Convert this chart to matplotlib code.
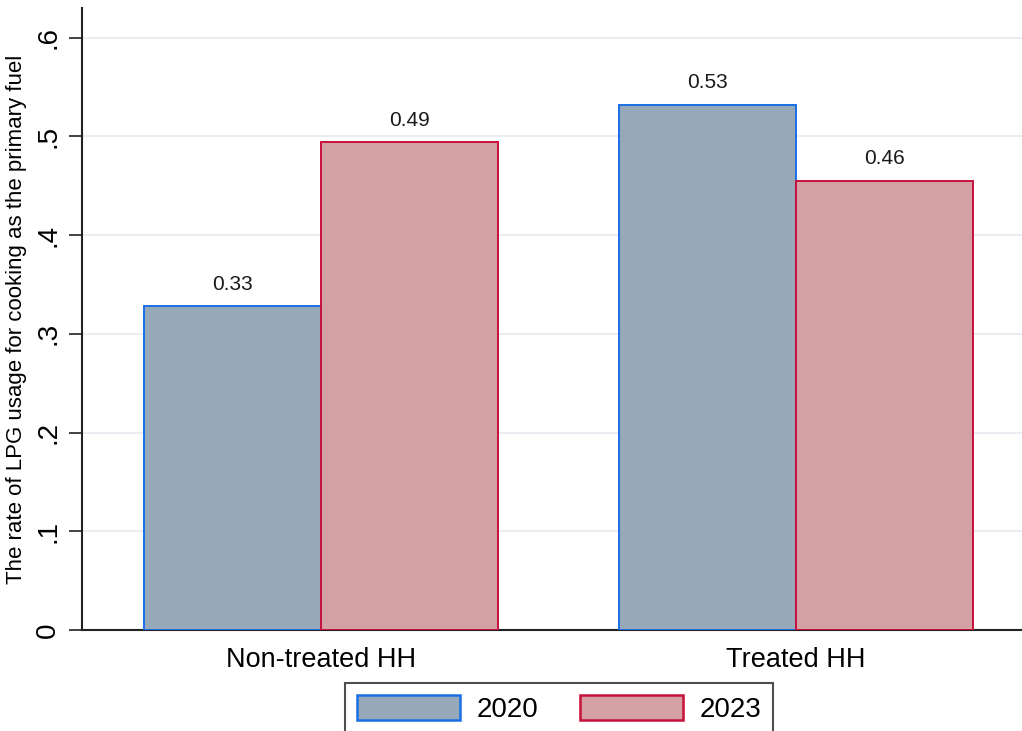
import numpy as np
import matplotlib.pyplot as plt
from matplotlib.patches import Patch

plt.rcParams['font.family'] = ['Liberation Sans', 'DejaVu Sans']

# data
groups = ['Non-treated HH', 'Treated HH']
years = ['2020', '2023']
rate_2020 = [0.328, 0.532]
rate_2023 = [0.494, 0.455]
yticks = [0, 0.1, 0.2, 0.3, 0.4, 0.5, 0.6]
ytick_labels = ['0', '.1', '.2', '.3', '.4', '.5', '.6']

fill = ['#97a8b8', '#d3a0a3']
edge = ['#1a6fe6', '#c8103c']

fig = plt.figure(figsize=(10.22, 7.31), dpi=100)
ax = fig.add_axes([0.0802, 0.138, 0.9198, 0.851])

x = np.arange(len(groups))
w = 0.373
b1 = ax.bar(x - w/2, rate_2020, w, color=fill[0], edgecolor=edge[0], linewidth=1.4, zorder=3)
b2 = ax.bar(x + w/2, rate_2023, w, color=fill[1], edgecolor=edge[1], linewidth=1.4, zorder=3)
for bars in (b1, b2):
    ax.bar_label(bars, fmt='%.2f', padding=9, fontsize=15, color='#1a1a1a')

ax.set_xlim(-0.503, 1.476)
ax.set_ylim(0, 0.63)
ax.set_yticks(yticks)
ax.set_yticklabels(ytick_labels, rotation=90, va='center', fontsize=20)
ax.set_xticks(x)
ax.set_xticklabels(groups, fontsize=19.5)
ax.tick_params(axis='x', length=0, pad=12)
ax.tick_params(axis='y', length=9.5, width=1.2, pad=5.5, color='#222222')
ax.grid(axis='y', color='#e6ebf0', linewidth=1.2, zorder=0)
ax.set_axisbelow(True)
for s in ('top', 'right'):
    ax.spines[s].set_visible(False)
for s in ('left', 'bottom'):
    ax.spines[s].set_linewidth(1.5)
    ax.spines[s].set_color('#222222')
ax.set_ylabel('The rate of LPG usage for cooking as the primary fuel', fontsize=16, labelpad=6)

handles = [Patch(facecolor=fill[i], edgecolor=edge[i], linewidth=1.8, label=years[i]) for i in range(2)]
leg = fig.legend(handles=handles, loc='upper center', bbox_to_anchor=(0.547, 0.0657), ncol=2,
                 fontsize=20, frameon=True, fancybox=False, edgecolor='#222222',
                 handlelength=3.7, handleheight=1.0, handletextpad=0.6, columnspacing=1.5,
                 borderpad=0.43, borderaxespad=0)
leg.get_frame().set_linewidth(1.5)

fig.savefig('out.png', dpi=100)
